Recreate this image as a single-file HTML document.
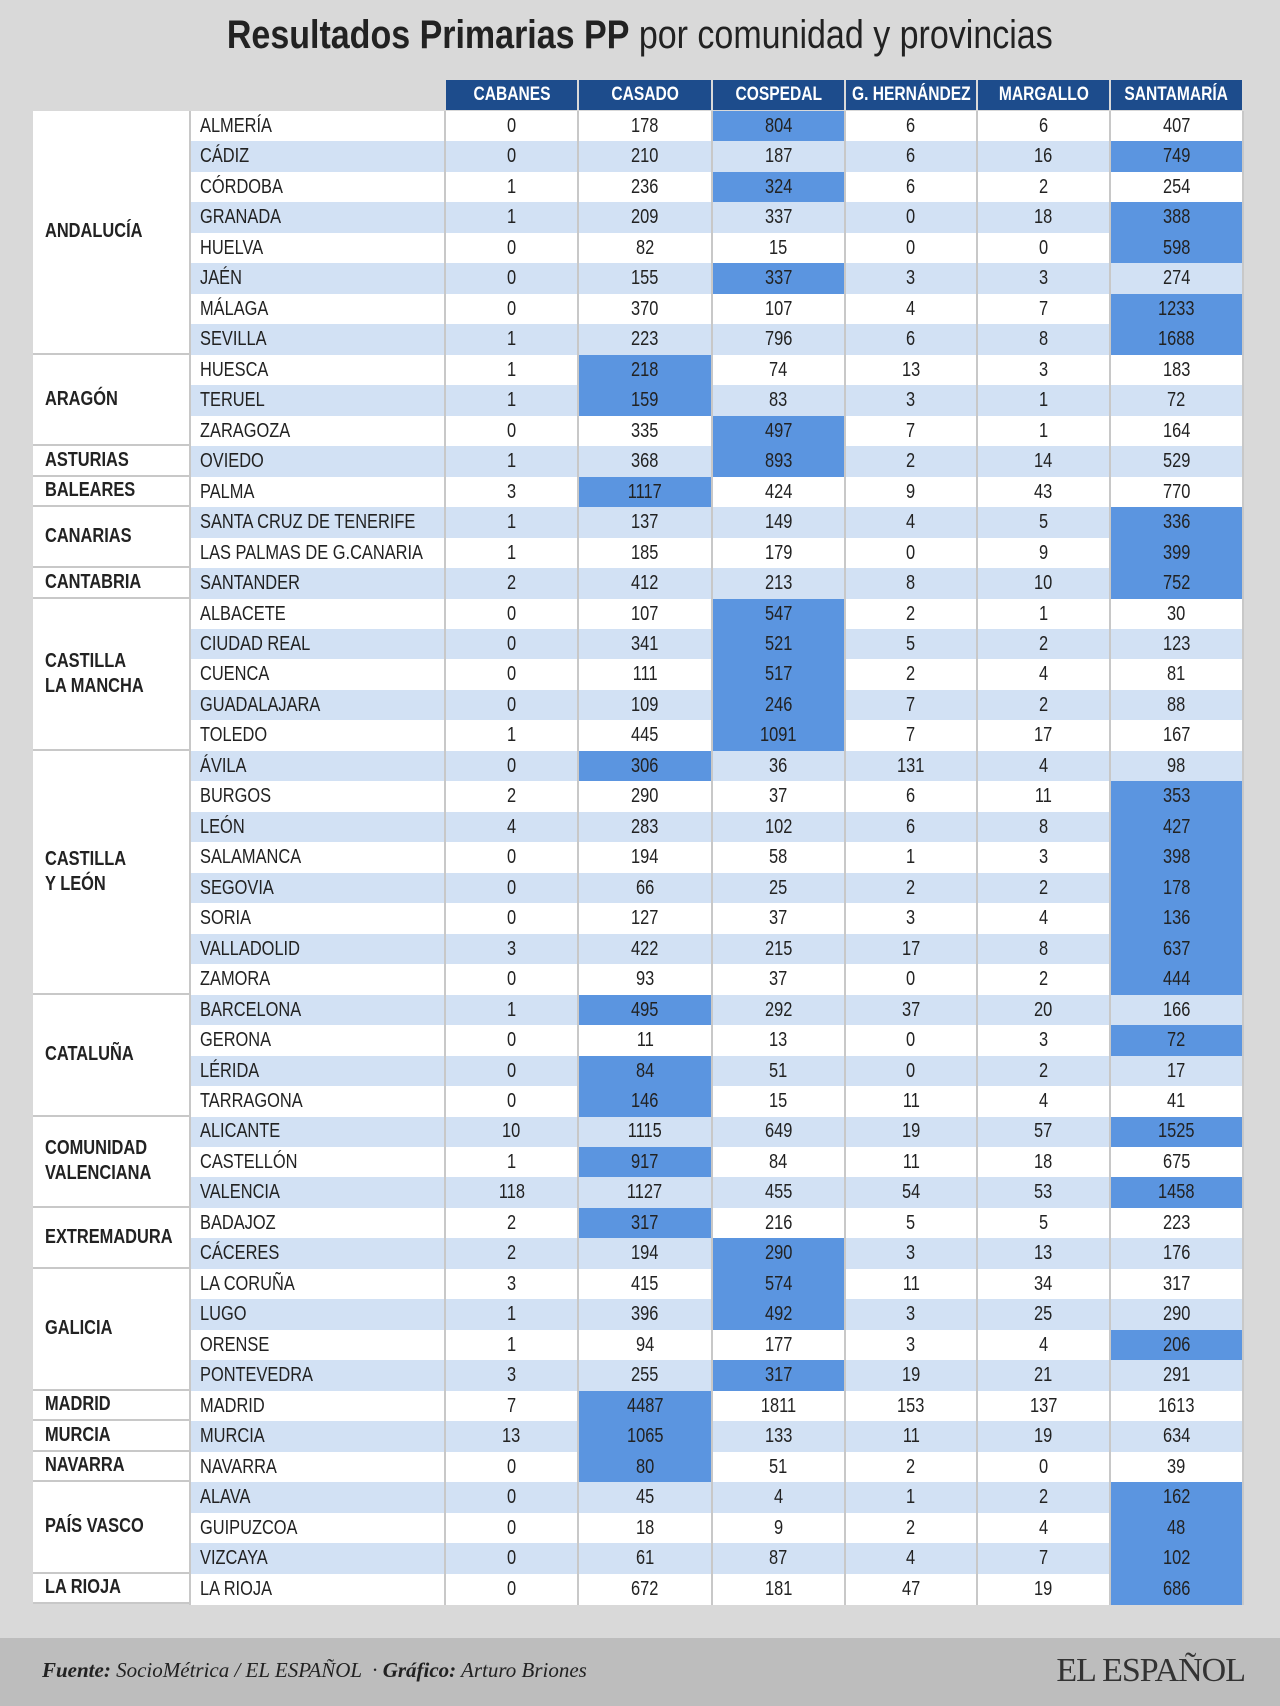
<!DOCTYPE html>
<html><head><meta charset="utf-8">
<style>
body{margin:0;width:1280px;height:1706px;background:#d9d9d9;position:relative;overflow:hidden;font-family:"Liberation Sans",sans-serif;}
#title{position:absolute;top:13px;left:0;width:1280px;text-align:center;font-size:40px;color:#222;}
#title span{display:inline-block;transform:scaleX(.85);}
#title b{font-weight:bold}
.c{position:absolute;box-sizing:border-box;font-size:20px;color:#222;display:flex;align-items:center;white-space:nowrap;}
.c span{display:inline-block;transform:scaleX(.82);}
.h{background:#1d4c8c;color:#fff;font-weight:bold;justify-content:center;font-size:19px;border-right:2px solid #d9d9d9;}
.n{justify-content:center;border-right:2px solid #c8c8c8;}
.p{padding-left:9px;border-right:2px solid #c8c8c8;border-left:2px solid #c8c8c8;}
.p span,.g span{transform-origin:left center;}
.g{background:#fff;font-weight:bold;padding-left:12px;border-bottom:2px solid #c8c8c8;line-height:25px;}
#footer{position:absolute;left:0;top:1638px;width:1280px;height:68px;background:#bdbdbd;}
#src{position:absolute;left:42px;top:20px;font-family:"Liberation Serif",serif;font-style:italic;font-size:21px;color:#222;}
#logo{position:absolute;right:35px;top:14px;font-family:"Liberation Serif",serif;font-size:34px;color:#333;letter-spacing:-1px;}
</style></head><body>
<div id="title"><span><b>Resultados Primarias PP</b> por comunidad y provincias</span></div>
<div id="table"></div>
<div id="footer">
<div id="src"><b>Fuente:</b> SocioMétrica / EL ESPAÑOL &nbsp;· <b>Gráfico:</b> Arturo Briones</div>
<div id="logo">EL ESPAÑOL</div>
</div>
<script>
const candidates=["CABANES","CASADO","COSPEDAL","G. HERNÁNDEZ","MARGALLO","SANTAMARÍA"];
const communities=[["ANDALUCÍA",8],["ARAGÓN",3],["ASTURIAS",1],["BALEARES",1],["CANARIAS",2],["CANTABRIA",1],["CASTILLA<br>LA MANCHA",5],["CASTILLA<br>Y LEÓN",8],["CATALUÑA",4],["COMUNIDAD<br>VALENCIANA",3],["EXTREMADURA",2],["GALICIA",4],["MADRID",1],["MURCIA",1],["NAVARRA",1],["PAÍS VASCO",3],["LA RIOJA",1]];
const provinces=["ALMERÍA","CÁDIZ","CÓRDOBA","GRANADA","HUELVA","JAÉN","MÁLAGA","SEVILLA","HUESCA","TERUEL","ZARAGOZA","OVIEDO","PALMA","SANTA CRUZ DE TENERIFE","LAS PALMAS DE G.CANARIA","SANTANDER","ALBACETE","CIUDAD REAL","CUENCA","GUADALAJARA","TOLEDO","ÁVILA","BURGOS","LEÓN","SALAMANCA","SEGOVIA","SORIA","VALLADOLID","ZAMORA","BARCELONA","GERONA","LÉRIDA","TARRAGONA","ALICANTE","CASTELLÓN","VALENCIA","BADAJOZ","CÁCERES","LA CORUÑA","LUGO","ORENSE","PONTEVEDRA","MADRID","MURCIA","NAVARRA","ALAVA","GUIPUZCOA","VIZCAYA","LA RIOJA"];
const cabanes=[0,0,1,1,0,0,0,1,1,1,0,1,3,1,1,2,0,0,0,0,1,0,2,4,0,0,0,3,0,1,0,0,0,10,1,118,2,2,3,1,1,3,7,13,0,0,0,0,0];
const casado=[178,210,236,209,82,155,370,223,218,159,335,368,1117,137,185,412,107,341,111,109,445,306,290,283,194,66,127,422,93,495,11,84,146,1115,917,1127,317,194,415,396,94,255,4487,1065,80,45,18,61,672];
const cospedal=[804,187,324,337,15,337,107,796,74,83,497,893,424,149,179,213,547,521,517,246,1091,36,37,102,58,25,37,215,37,292,13,51,15,649,84,455,216,290,574,492,177,317,1811,133,51,4,9,87,181];
const ghernandez=[6,6,6,0,0,3,4,6,13,3,7,2,9,4,0,8,2,5,2,7,7,131,6,6,1,2,3,17,0,37,0,0,11,19,11,54,5,3,11,3,3,19,153,11,2,1,2,4,47];
const margallo=[6,16,2,18,0,3,7,8,3,1,1,14,43,5,9,10,1,2,4,2,17,4,11,8,3,2,4,8,2,20,3,2,4,57,18,53,5,13,34,25,4,21,137,19,0,2,4,7,19];
const santamaria=[407,749,254,388,598,274,1233,1688,183,72,164,529,770,336,399,752,30,123,81,88,167,98,353,427,398,178,136,637,444,166,72,17,41,1525,675,1458,223,176,317,290,206,291,1613,634,39,162,48,102,686];
const series=[cabanes,casado,cospedal,ghernandez,margallo,santamaria];
const T=document.getElementById('table');
const colX=[446,579,713,846,978,1111,1244];
const top0=111,rowH=30.47,commL=33,provL=189;
function rowY(i){return top0+i*rowH;}
function mk(cls,x,y,w,h,html){const d=document.createElement('div');d.className='c '+cls;d.style.left=x+'px';d.style.top=y+'px';d.style.width=w+'px';d.style.height=h+'px';d.innerHTML='<span>'+html+'</span>';T.appendChild(d);return d;}
candidates.forEach((c,j)=>{
 const d=mk('h',colX[j],80,colX[j+1]-colX[j],30,c);
 
 
});
provinces.forEach((p,i)=>{
 const y=rowY(i),bg=i%2?'#d2e1f4':'#fff';
 const d=mk('p',provL,y,colX[0]-provL,rowH+0.5,p);d.style.background=bg;
 
 
 const vals=series.map(s=>s[i]);const mx=Math.max(...vals);
 vals.forEach((v,j)=>{
  const e=mk('n',colX[j],y,colX[j+1]-colX[j],rowH+0.5,v);
  e.style.background=v===mx?'#5b95e0':bg;
  
  
 });
});
let r=0;
communities.forEach(([name,n],k)=>{
 const d=mk('g',commL,rowY(r),provL-commL,rowH*n,name);
 
 
 r+=n;
});
</script>
</body></html>
